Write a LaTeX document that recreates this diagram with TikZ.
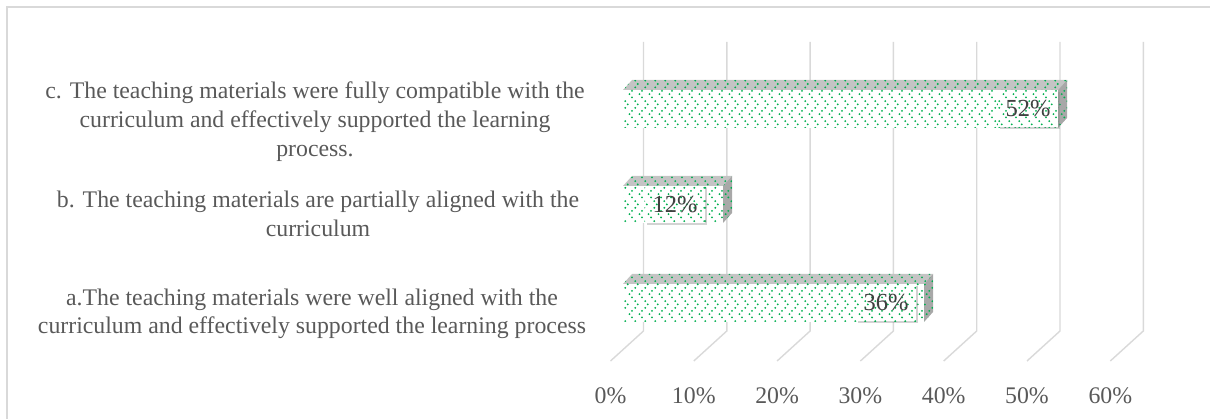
\documentclass[tikz,border=0pt]{standalone}
\usepackage{fontspec}
\setmainfont{Liberation Serif}
\usepackage{tikz}
\usetikzlibrary{patterns,shadows}

\definecolor{gridgray}{HTML}{D9D9D9}
\definecolor{labelgray}{HTML}{595959}
\definecolor{valgray}{HTML}{404040}
\definecolor{chevgreen}{HTML}{00B050}
\definecolor{topgray}{HTML}{C4C4C4}
\definecolor{sidegray}{HTML}{A8A8A8}

% small green chevrons, > over <
\pgfdeclarepatternformonly{chevdots}{\pgfqpoint{0pt}{0pt}}{\pgfqpoint{9.6pt}{20pt}}{\pgfqpoint{9.6pt}{20pt}}{
  \pgfpathcircle{\pgfqpoint{1.3pt}{18.4pt}}{1.05pt}
  \pgfpathcircle{\pgfqpoint{3.9pt}{15pt}}{1.05pt}
  \pgfpathcircle{\pgfqpoint{1.3pt}{11.6pt}}{1.05pt}
  \pgfpathcircle{\pgfqpoint{8.3pt}{8.4pt}}{1.05pt}
  \pgfpathcircle{\pgfqpoint{5.7pt}{5pt}}{1.05pt}
  \pgfpathcircle{\pgfqpoint{8.3pt}{1.6pt}}{1.05pt}
  \pgfusepath{fill}
}

\tikzset{
  gridline/.style={draw=gridgray, line width=1.4pt},
  chevfill/.style={postaction={pattern=chevdots, pattern color=chevgreen}},
  barfront/.style={fill=white, chevfill},
  bartop/.style={fill=topgray, chevfill},
  barside/.style={fill=sidegray, chevfill},
  catlabel/.style={text=labelgray, align=center, inner sep=0pt, anchor=north,
    font=\fontsize{23.8}{28.6}\selectfont},
  ticklabel/.style={text=labelgray, inner sep=0pt, font=\fontsize{23.8}{27.5}\selectfont},
  valbox/.style={fill=white, chevfill, text=valgray, inner sep=0pt,
    minimum width=60pt, minimum height=37pt, font=\fontsize{24.5}{28}\selectfont,
    drop shadow={shadow xshift=2pt, shadow yshift=-2pt, opacity=0.35, fill=gray}}
}

\begin{document}
\begin{tikzpicture}[x=1pt, y=-1pt]

   \useasboundingbox (0,0) rectangle (1210,419);
   \draw[gridline, line width=1.2pt] (7,419) -- (7,7) -- (1210,7);

   \draw[gridline] (643.5,42) -- (643.5,331) -- (610.5,361);
   \draw[gridline] (726.8,42) -- (726.8,331) -- (693.8,361);
   \draw[gridline] (810.1,42) -- (810.1,331) -- (777.1,361);
   \draw[gridline] (893.4,42) -- (893.4,331) -- (860.4,361);
   \draw[gridline] (976.7,42) -- (976.7,331) -- (943.7,361);
   \draw[gridline] (1060.0,42) -- (1060.0,331) -- (1027.0,361);
   \draw[gridline] (1143.3,42) -- (1143.3,331) -- (1110.3,361);

   \node[ticklabel] (tick0) at (610.5,396) {0\%};
   \node[ticklabel] (tick1) at (693.8,396) {10\%};
   \node[ticklabel] (tick2) at (777.1,396) {20\%};
   \node[ticklabel] (tick3) at (860.4,396) {30\%};
   \node[ticklabel] (tick4) at (943.7,396) {40\%};
   \node[ticklabel] (tick5) at (1027.0,396) {50\%};
   \node[ticklabel] (tick6) at (1110.3,396) {60\%};

   % c: 52%
   \path[bartop] (623,90) -- (632,80) -- (1067,80) -- (1058,90) -- cycle;
   \path[barside] (1058,90) -- (1067,80) -- (1067,118) -- (1058,128) -- cycle;
   \path[barfront] (623,90) rectangle (1058,128);
   % b: 12%
   \path[bartop] (623,186) -- (632,176) -- (732,176) -- (723,186) -- cycle;
   \path[barside] (723,186) -- (732,176) -- (732,213) -- (723,223) -- cycle;
   \path[barfront] (623,186) rectangle (723,223);
   % a: 36%
   \path[bartop] (623,284) -- (632,274) -- (933,274) -- (924,284) -- cycle;
   \path[barside] (924,284) -- (933,274) -- (933,312) -- (924,322) -- cycle;
   \path[barfront] (623,284) rectangle (924,322);

   \node[valbox] (valc) at (1028,109) {52\%};
   \node[valbox] (valb) at (675,204.5) {12\%};
   \node[valbox] (vala) at (886,303) {36\%};

   \node[catlabel] (catc) at (315,82) {c. The teaching materials were fully compatible with the\\curriculum and effectively supported the learning\\process.};
   \node[catlabel] (catb) at (318,191) {b. The teaching materials are partially aligned with the\\curriculum};
   \node[catlabel] (cata) at (312,288.5) {a.The teaching materials were well aligned with the\\curriculum and effectively supported the learning process};

\end{tikzpicture}
\end{document}
